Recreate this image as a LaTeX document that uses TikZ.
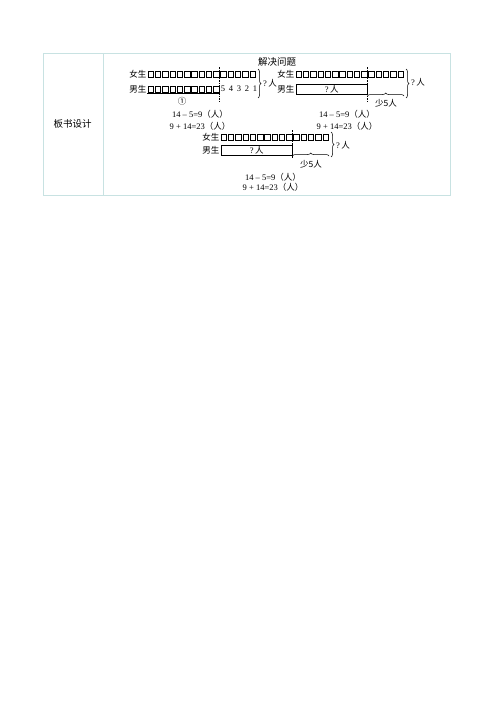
\documentclass[tikz,border=0pt]{standalone}
\usepackage{fontspec}
\setmainfont{Liberation Serif}
\newfontfamily\cjk{Noto Sans CJK SC}
\usetikzlibrary{decorations.pathreplacing}

\tikzset{every picture/.style={line width=0.5pt}}
\tikzset{
  cell/.style={draw, minimum size=5.4pt, inner sep=0pt, line width=0.4pt},
  cut/.style={dash pattern=on 1.6pt off 1pt, line width=0.45pt},
  lbl/.style={inner sep=0.5pt, font=\fontsize{8.5}{10}\selectfont\cjk},
  eqn/.style={inner sep=0.5pt, font=\fontsize{8.5}{10}\selectfont},
  brc/.style={decorate, decoration={brace, amplitude=3pt}},
  bar/.style={draw, inner sep=0pt, minimum height=10pt, font=\fontsize{8.5}{10}\selectfont},
}
\newcommand\ren{{\cjk 人}}

\begin{document}
\begin{tikzpicture}[x=1pt,y=1pt,yscale=-1]
\useasboundingbox (0,0) rectangle (500,707);

%Table frame
\draw [color={rgb,255:red,200;green,226;blue,226}, line width=1pt] (43,53) rectangle (450,195);
\draw [color={rgb,255:red,200;green,226;blue,226}, line width=1pt] (103,53) -- (103,195);
\node [font=\fontsize{9.5}{11}\selectfont\cjk] (title) at (72.5,124) {板书设计};
\node [lbl, font=\fontsize{9.5}{11}\selectfont\cjk] (head) at (277,62) {解决问题};

%Diagram 1
\node [lbl, anchor=east] (girlA) at (147,74) {女生};
\foreach \i in {1,...,15} \node [cell] (ga\i) at (143.4+\i*7.27,74) {};
\node [lbl, anchor=east] (boyA) at (147,89) {男生};
\foreach \i in {1,...,10} \node [cell] (ba\i) at (143.4+\i*7.27,89) {};
\foreach \n [count=\k] in {5,4,3,2,1} \node [eqn] (na\k) at (215+\k*8,89) {\n};
\draw [line width=0.8pt] (147,93.5) -- (219.5,93.5);
\node [lbl] (oneA) at (182,101) {①};
\draw [cut] (219.5,67) -- (219.5,101);
\draw [brc] (258,69) -- (258,98);
\node [eqn] (askA) at (270,83) {?\,\ren};
\node [eqn] (eqA1) at (200,114) {14 – 5=9{\cjk（人）}};
\node [eqn] (eqA2) at (200,126) {9 + 14=23{\cjk（人）}};

%Diagram 2
\node [lbl, anchor=east] (girlB) at (295,74) {女生};
\foreach \i in {1,...,15} \node [cell] (gb\i) at (291.4+\i*7.27,74) {};
\node [lbl, anchor=east] (boyB) at (295,89) {男生};
\node [bar, minimum width=71pt] (barB) at (331.8,89) {?\,\ren};
\draw [cut] (367.5,67) -- (367.5,101);
\draw [brc] (406,69) -- (406,98);
\node [eqn] (askB) at (418,82) {?\,\ren};
\draw [brc] (367.5,96) -- (404,96);
\node [lbl] (lessB) at (386,103) {少5人};
\node [eqn] (eqB1) at (347,114) {14 – 5=9{\cjk（人）}};
\node [eqn] (eqB2) at (347,126) {9 + 14=23{\cjk（人）}};

%Diagram 3
\node [lbl, anchor=east] (girlC) at (220,137) {女生};
\foreach \i in {1,...,15} \node [cell] (gc\i) at (216.4+\i*7.27,137) {};
\node [lbl, anchor=east] (boyC) at (220,150) {男生};
\node [bar, minimum width=71pt] (barC) at (256.8,150) {?\,\ren};
\draw [cut] (292.5,130) -- (292.5,158);
\draw [brc] (331,132) -- (331,157);
\node [eqn] (askC) at (343,145) {?\,\ren};
\draw [brc] (292.5,156) -- (329,156);
\node [lbl] (lessC) at (311,164) {少5人};
\node [eqn] (eqC1) at (273,177) {14 – 5=9{\cjk（人）}};
\node [eqn] (eqC2) at (273,187) {9 + 14=23{\cjk（人）}};

\end{tikzpicture}
\end{document}
